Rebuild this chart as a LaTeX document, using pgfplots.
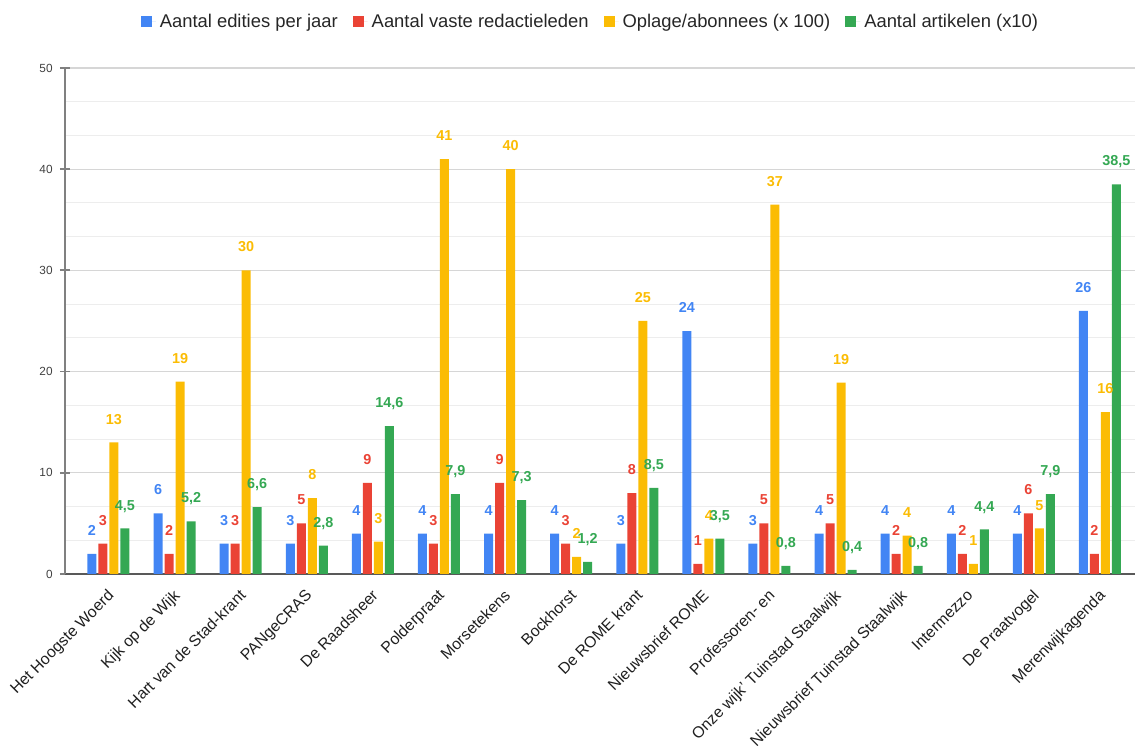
\documentclass[border=0pt]{standalone}
\usepackage{fontspec}
\setmainfont{Liberation Sans}
\usepackage{pgfplots}
\pgfplotsset{compat=1.18}
\definecolor{gBlue}{HTML}{4285F4}
\definecolor{gRed}{HTML}{EA4335}
\definecolor{gYellow}{HTML}{FBBC04}
\definecolor{gGreen}{HTML}{34A853}

\begin{document}
\begin{tikzpicture}
\begin{axis}[
  at={(0,0)}, anchor=south west,
  scale only axis, width=535pt, height=253pt,
  ybar=1pt, bar width=4.5pt,
  xmin=-0.658, xmax=15.53, ymin=0, ymax=50,
  clip=false,
  axis x line=bottom, axis y line=left,
  axis line style={-},
  x axis line style={draw=black!65, line width=0.8pt},
  y axis line style={draw=black!50, line width=0.9pt},
  ytick={0,10,...,50}, minor y tick num=2,
  xtick={0,...,15},
  xticklabels={Het Hoogste Woerd, Kijk op de Wijk, Hart van de Stad-krant, PANgeCRAS,
    De Raadsheer, Polderpraat, Morsetekens, Bockhorst, De ROME krant, Nieuwsbrief ROME,
    Professoren- en, Onze wijk' Tuinstad Staalwijk, Nieuwsbrief Tuinstad Staalwijk,
    Intermezzo, De Praatvogel, Merenwijkagenda},
  major x tick style={draw=none},
  major y tick style={draw=black!50, line width=0.9pt},
  tick align=center, major tick length=5pt, minor tick length=0pt,
  ymajorgrids, yminorgrids,
  major grid style={draw=black!16, line width=0.6pt},
  minor grid style={draw=black!7, line width=0.5pt},
  /pgf/number format/assume math mode=true,
  yticklabel style={font=\fontsize{5.9}{7}\selectfont, text=black!75, inner sep=0pt, anchor=east, xshift=-3.5pt},
  xticklabel style={xshift=-1pt, yshift=-4.5pt, rotate=45, anchor=north east, font=\fontsize{7.9}{9}\selectfont, text=black!88, inner sep=0pt},
  nodes near coords,
  every node near coord/.append style={font=\bfseries\fontsize{7.2}{8}\selectfont, anchor=south, inner sep=0pt, text depth=0pt, yshift=9pt},
  legend columns=4,
  legend style={at={(0.492,1.091)}, anchor=center, draw=none, fill=none,
    font=\fontsize{9.2}{11}\selectfont, text=black!85,
    /tikz/every even column/.append style={column sep=5.5pt}},
  legend image code/.code={\path (0pt,0pt) -- (7.5pt,0pt); \fill[#1] (0pt,-2.75pt) rectangle (5.5pt,2.75pt);},
]

\addplot[fill=gBlue, draw=none, every node near coord/.append style={text=gBlue},
  nodes near coords={\pgfmathprintnumber[fixed,precision=0]{\pgfplotspointmeta}}]
  coordinates {(0,2)(1,6)(2,3)(3,3)(4,4)(5,4)(6,4)(7,4)(8,3)(9,24)(10,3)(11,4)(12,4)(13,4)(14,4)(15,26)};

\addplot[fill=gRed, draw=none, every node near coord/.append style={text=gRed},
  nodes near coords={\pgfmathprintnumber[fixed,precision=0]{\pgfplotspointmeta}}]
  coordinates {(0,3)(1,2)(2,3)(3,5)(4,9)(5,3)(6,9)(7,3)(8,8)(9,1)(10,5)(11,5)(12,2)(13,2)(14,6)(15,2)};

\addplot[fill=gYellow, draw=none, every node near coord/.append style={text=gYellow},
  nodes near coords={\pgfmathprintnumber[fixed,precision=0]{\pgfplotspointmeta}}]
  coordinates {(0,13)(1,19)(2,30)(3,7.5)(4,3.2)(5,41)(6,40)(7,1.7)(8,25)(9,3.5)(10,36.5)(11,18.9)(12,3.8)(13,1.0)(14,4.5)(15,16)};

\addplot[fill=gGreen, draw=none, every node near coord/.append style={text=gGreen},
  nodes near coords={\pgfmathprintnumber[fixed,fixed zerofill,precision=1,use comma]{\pgfplotspointmeta}}]
  coordinates {(0,4.5)(1,5.2)(2,6.6)(3,2.8)(4,14.6)(5,7.9)(6,7.3)(7,1.2)(8,8.5)(9,3.5)(10,0.8)(11,0.4)(12,0.8)(13,4.4)(14,7.9)(15,38.5)};

\legend{Aantal edities per jaar, Aantal vaste redactieleden, Oplage/abonnees (x 100), Aantal artikelen (x10)}
\end{axis}
\pgfresetboundingbox
\path (-32.5pt,-90pt) rectangle (535pt,287pt);
\end{tikzpicture}
\end{document}
